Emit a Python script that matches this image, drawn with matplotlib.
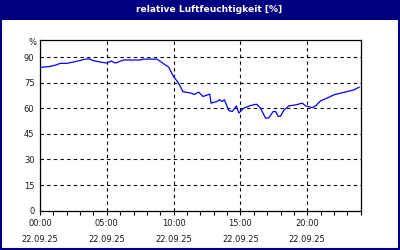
import matplotlib
matplotlib.use("Agg")
import matplotlib.pyplot as plt
from matplotlib.patches import Rectangle

title = "relative Luftfeuchtigkeit [%]"
hours = [0.0, 0.75, 1.25, 1.5, 2.0, 2.5, 3.0, 3.4, 3.75, 4.0, 4.5, 5.0, 5.33, 5.63,
         5.87, 6.25, 7.5, 7.75, 8.75, 9.0, 9.43, 9.62, 10.0, 10.37, 10.7, 11.25,
         11.55, 11.87, 12.2, 12.7, 12.8, 13.25, 13.43, 13.63, 13.8, 14.13, 14.38,
         14.55, 14.7, 14.88, 15.25, 15.75, 16.2, 16.5, 16.88, 17.12, 17.45, 17.63,
         17.83, 18.0, 18.25, 18.63, 19.13, 19.63, 19.88, 20.38, 20.63, 21.0, 21.5,
         22.0, 22.5, 23.0, 23.5, 23.88]
humidity = [83.9, 84.5, 85.5, 86.3, 86.3, 87.1, 88.0, 88.8, 88.8, 87.9, 87.1, 86.5,
            87.7, 86.5, 87.1, 88.3, 88.3, 88.8, 88.8, 87.5, 85.1, 84.2, 78.5, 74.8,
            69.7, 69.0, 68.1, 69.5, 66.9, 68.3, 63.0, 64.0, 65.0, 64.0, 65.0, 58.7,
            58.1, 59.7, 61.4, 57.2, 60.1, 61.6, 62.4, 60.1, 54.2, 54.4, 58.1, 58.1,
            55.2, 55.4, 58.9, 61.4, 62.0, 63.0, 61.4, 60.4, 61.4, 64.4, 66.0, 67.9,
            68.9, 69.8, 70.8, 72.4]
x_ticks = [0, 5, 10, 15, 20]
x_labels = ["00:00\n22.09.25", "05:00\n22.09.25", "10:00\n22.09.25",
            "15:00\n22.09.25", "20:00\n22.09.25"]
y_ticks = [0, 15, 30, 45, 60, 75, 90]

navy = "#000080"
txt = "#1a1a1a"
fig = plt.figure(figsize=(4, 2.5), dpi=100)
fig.patch.set_facecolor("white")

# title bar and border
fig.patches.append(Rectangle((0, 1 - 20 / 250), 1, 20 / 250, transform=fig.transFigure,
                             facecolor=navy, edgecolor="none", zorder=0))
fig.patches.append(Rectangle((0.002, 0.004), 0.996, 0.992, transform=fig.transFigure,
                             facecolor="none", edgecolor=navy, linewidth=1.5, zorder=0))
fig.text(0.523, 1 - 10 / 250, title, color="white", ha="center", va="center",
         fontsize=6.6, fontweight="bold", family="DejaVu Sans")

ax = fig.add_axes([40 / 400, 1 - 210.7 / 250, 320.7 / 400, 170.7 / 250])
ax.plot(hours, humidity, color="#0000ff", linewidth=0.9)
ax.set_xlim(0, 24)
ax.set_ylim(0, 100)

ax.set_xticks(x_ticks)
ax.set_xticklabels(x_labels, fontsize=6, color=txt, linespacing=2.0)
ax.set_xticks(range(0, 25), minor=True)
ax.tick_params(axis="x", which="both", direction="out", length=3, width=0.8,
               pad=3, color="black")
ax.set_yticks(y_ticks)
ax.set_yticklabels([str(v) for v in y_ticks], fontsize=6, color=txt)
ax.tick_params(axis="y", length=0, pad=4)
ax.text(-0.012, 98.5, "%", transform=ax.get_yaxis_transform(), ha="right",
        va="center", fontsize=6, color=txt)

ax.grid(True, which="major", color="black", linestyle=(0, (3, 3)), linewidth=0.8)
for s in ax.spines.values():
    s.set_color("black")
    s.set_linewidth(0.9)

fig.savefig("out.png", dpi=100, facecolor="white")
